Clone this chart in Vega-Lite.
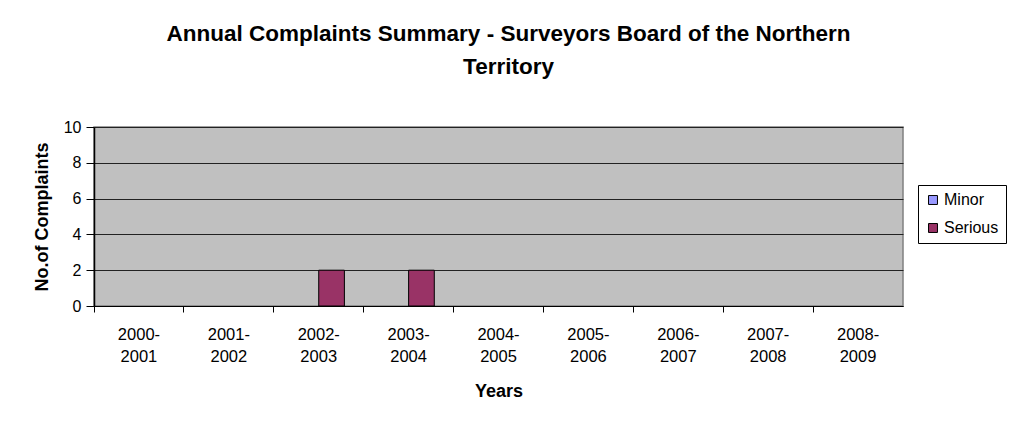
{
  "$schema": "https://vega.github.io/schema/vega-lite/v6.json",
  "width": 809,
  "height": 179,
  "autosize": {"type": "none"},
  "padding": {"left": 94, "top": 127, "right": 106, "bottom": 116},
  "background": "white",
  "title": {
    "text": ["Annual Complaints Summary - Surveyors Board of the Northern", "Territory"],
    "font": "Liberation Sans",
    "fontSize": 22.5,
    "fontWeight": "bold",
    "color": "black",
    "anchor": "middle",
    "dx": 10,
    "offset": 41,
    "lineHeight": 33
  },
  "data": {
    "values": [
      {"year": "2000-2001", "type": "Minor", "count": 0},
      {"year": "2000-2001", "type": "Serious", "count": 0},
      {"year": "2001-2002", "type": "Minor", "count": 0},
      {"year": "2001-2002", "type": "Serious", "count": 0},
      {"year": "2002-2003", "type": "Minor", "count": 0},
      {"year": "2002-2003", "type": "Serious", "count": 2},
      {"year": "2003-2004", "type": "Minor", "count": 0},
      {"year": "2003-2004", "type": "Serious", "count": 2},
      {"year": "2004-2005", "type": "Minor", "count": 0},
      {"year": "2004-2005", "type": "Serious", "count": 0},
      {"year": "2005-2006", "type": "Minor", "count": 0},
      {"year": "2005-2006", "type": "Serious", "count": 0},
      {"year": "2006-2007", "type": "Minor", "count": 0},
      {"year": "2006-2007", "type": "Serious", "count": 0},
      {"year": "2007-2008", "type": "Minor", "count": 0},
      {"year": "2007-2008", "type": "Serious", "count": 0},
      {"year": "2008-2009", "type": "Minor", "count": 0},
      {"year": "2008-2009", "type": "Serious", "count": 0}
    ]
  },
  "mark": {"type": "bar", "stroke": "black", "strokeWidth": 1},
  "encoding": {
    "x": {
      "field": "year",
      "type": "nominal",
      "sort": null,
      "scale": {"paddingInner": 0, "paddingOuter": 0},
      "axis": {
        "title": "Years",
        "labelAngle": 0,
        "labelExpr": "[slice(datum.label, 0, 5), slice(datum.label, 5)]",
        "labelLineHeight": 22,
        "labelPadding": 14,
        "labelFontSize": 16.5,
        "bandPosition": 0,
        "tickSize": 6,
        "titlePadding": 18
      }
    },
    "xOffset": {
      "field": "type",
      "type": "nominal",
      "scale": {"domain": ["Minor", "Serious"], "paddingOuter": 0.75, "paddingInner": 0}
    },
    "y": {
      "field": "count",
      "type": "quantitative",
      "scale": {"domain": [0, 10]},
      "axis": {
        "title": "No.of Complaints",
        "values": [0, 2, 4, 6, 8, 10],
        "tickSize": 8,
        "labelPadding": 5,
        "labelFontSize": 16,
        "titlePadding": 12
      }
    },
    "strokeOpacity": {
      "condition": {"test": "datum.count == 0", "value": 0},
      "value": 1
    },
    "color": {
      "field": "type",
      "type": "nominal",
      "scale": {"domain": ["Minor", "Serious"], "range": ["#9999ff", "#993366"]},
      "legend": {
        "title": null,
        "orient": "none",
        "legendX": 824,
        "legendY": 58,
        "symbolType": "square",
        "symbolSize": 80,
        "symbolStrokeColor": "black",
        "symbolStrokeWidth": 1,
        "symbolOpacity": 1,
        "labelFontSize": 16,
        "labelFont": "Liberation Sans",
        "labelColor": "black",
        "rowPadding": 12,
        "padding": 7,
        "strokeColor": "black",
        "fillColor": "white",
        "labelOffset": 3
      }
    }
  },
  "config": {
    "view": {"fill": "#c0c0c0", "stroke": "#808080", "strokeWidth": 1.5},
    "axis": {
      "labelFont": "Liberation Sans",
      "labelColor": "black",
      "titleFont": "Liberation Sans",
      "titleFontSize": 18,
      "titleFontWeight": "bold",
      "titleColor": "black",
      "domainColor": "black",
      "tickColor": "black",
      "gridColor": "#222222",
      "gridWidth": 1
    },
    "axisX": {"grid": false},
    "axisY": {"grid": true, "domainWidth": 1.5}
  }
}
